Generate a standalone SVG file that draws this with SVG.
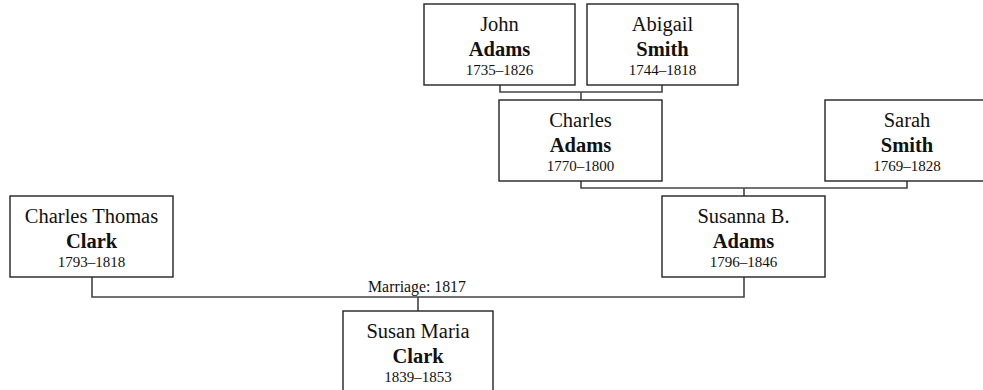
<svg xmlns="http://www.w3.org/2000/svg" width="983" height="390" viewBox="0 0 983 390">
<style>
.box{fill:#fff;stroke:#222;stroke-width:1.4}
.conn{fill:none;stroke:#444;stroke-width:1.6}
text{font-family:"Liberation Serif","Times New Roman",serif;text-anchor:middle;fill:#111}
.fn{font-size:20.5px}
.ln{font-size:20.5px;font-weight:bold}
.dt{font-size:15px}
.lbl{font-size:15.8px}
</style>
<rect width="983" height="390" fill="#fff"/>
<g id="connectors">
<path class="conn" d="M500,85 V92 H662 V85 M581,92 V100"/>
<path class="conn" d="M581,181 V188 H907 V181 M744,188 V196"/>
<path class="conn" d="M92,277 V297 H744 V277 M418,297 V311"/>
<text class="lbl" x="417" y="292">Marriage: 1817</text>
</g>
<g id="john-adams">
<rect class="box" x="424" y="4" width="151" height="81"/>
<text class="fn" x="499.5" y="31">John</text>
<text class="ln" x="499.5" y="56">Adams</text>
<text class="dt" x="499.5" y="75">1735–1826</text>
</g>
<g id="abigail-smith">
<rect class="box" x="587" y="4" width="151" height="81"/>
<text class="fn" x="662.5" y="31">Abigail</text>
<text class="ln" x="662.5" y="56">Smith</text>
<text class="dt" x="662.5" y="75">1744–1818</text>
</g>
<g id="charles-adams">
<rect class="box" x="499" y="100" width="163" height="81"/>
<text class="fn" x="580.5" y="127">Charles</text>
<text class="ln" x="580.5" y="152">Adams</text>
<text class="dt" x="580.5" y="171">1770–1800</text>
</g>
<g id="sarah-smith">
<rect class="box" x="825" y="100" width="164" height="81"/>
<text class="fn" x="907" y="127">Sarah</text>
<text class="ln" x="907" y="152">Smith</text>
<text class="dt" x="907" y="171">1769–1828</text>
</g>
<g id="charles-thomas-clark">
<rect class="box" x="10" y="196" width="163" height="81"/>
<text class="fn" x="91.5" y="223">Charles Thomas</text>
<text class="ln" x="91.5" y="248">Clark</text>
<text class="dt" x="91.5" y="267">1793–1818</text>
</g>
<g id="susanna-adams">
<rect class="box" x="662" y="196" width="163" height="81"/>
<text class="fn" x="743.5" y="223">Susanna B.</text>
<text class="ln" x="743.5" y="248">Adams</text>
<text class="dt" x="743.5" y="267">1796–1846</text>
</g>
<g id="susan-maria-clark">
<rect class="box" x="343" y="311" width="150" height="81"/>
<text class="fn" x="418" y="338">Susan Maria</text>
<text class="ln" x="418" y="363">Clark</text>
<text class="dt" x="418" y="382">1839–1853</text>
</g>
</svg>
